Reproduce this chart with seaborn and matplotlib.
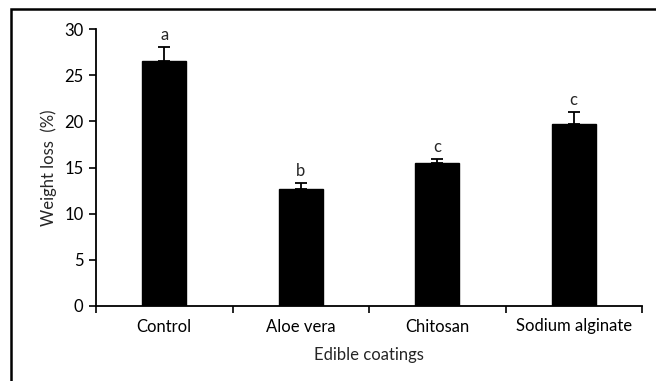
import matplotlib
matplotlib.use("Agg")
import matplotlib.pyplot as plt
from matplotlib.patches import Rectangle
import seaborn as sns
import pandas as pd

# data
coatings = ["Control", "Aloe vera", "Chitosan", "Sodium alginate"]
weight_loss = [26.5, 12.7, 15.5, 19.7]
err_up = [1.5, 0.6, 0.4, 1.3]
letters = ["a", "b", "c", "c"]

sns.set_theme(style="white")
plt.rcParams["font.family"] = ["Lato", "DejaVu Sans"]
fs = 12

df = pd.DataFrame({"coating": coatings, "loss": weight_loss})

fig = plt.figure(figsize=(6.56, 3.81), dpi=100)
ax = fig.add_axes([96 / 656, 1 - 306 / 381, (642 - 96) / 656, (306 - 29) / 381])

sns.barplot(data=df, x="coating", y="loss", color="black", width=0.32,
            saturation=1, errorbar=None, ax=ax)
for p in ax.patches:
    p.set_edgecolor("black")

# upper-only error bars
xs = range(len(coatings))
ax.errorbar(xs, weight_loss, yerr=[[0] * len(err_up), err_up], fmt="none",
            ecolor="black", elinewidth=1.3, capsize=4, capthick=1.3)

for x, v, e, t in zip(xs, weight_loss, err_up, letters):
    ax.annotate(t, (x, v + e), xytext=(0, 3), textcoords="offset points",
                ha="center", va="bottom", fontsize=fs)

ax.set_ylim(0, 30)
ax.set_yticks(range(0, 31, 5))
ax.set_xlim(-0.5, len(coatings) - 0.5)
ax.set_xticks([i - 0.5 for i in range(len(coatings) + 1)], minor=True)
ax.tick_params(axis="x", which="major", length=0, pad=9, labelsize=fs)
ax.tick_params(axis="x", which="minor", length=5, width=1.2, direction="out", color="black")
ax.tick_params(axis="y", length=5, width=1.2, direction="out", color="black", labelsize=fs, pad=4)
ax.tick_params(axis="both", colors="black")
ax.xaxis.set_ticks_position("bottom")
ax.yaxis.set_ticks_position("left")

sns.despine(ax=ax)
for s in ["left", "bottom"]:
    ax.spines[s].set_color("black")
    ax.spines[s].set_linewidth(1.3)

ax.set_xlabel("Edible coatings", fontsize=fs, labelpad=9)
ax.set_ylabel("Weight loss  (%)", fontsize=fs, labelpad=5)

# chart-area border (only left and top edges visible in the crop)
fig.patches.append(Rectangle((11 / 656, -0.1), 1.2, (381 - 9) / 381 + 0.1,
                             transform=fig.transFigure, fill=False,
                             edgecolor="black", linewidth=1.8))

fig.savefig("out.png", dpi=100)
